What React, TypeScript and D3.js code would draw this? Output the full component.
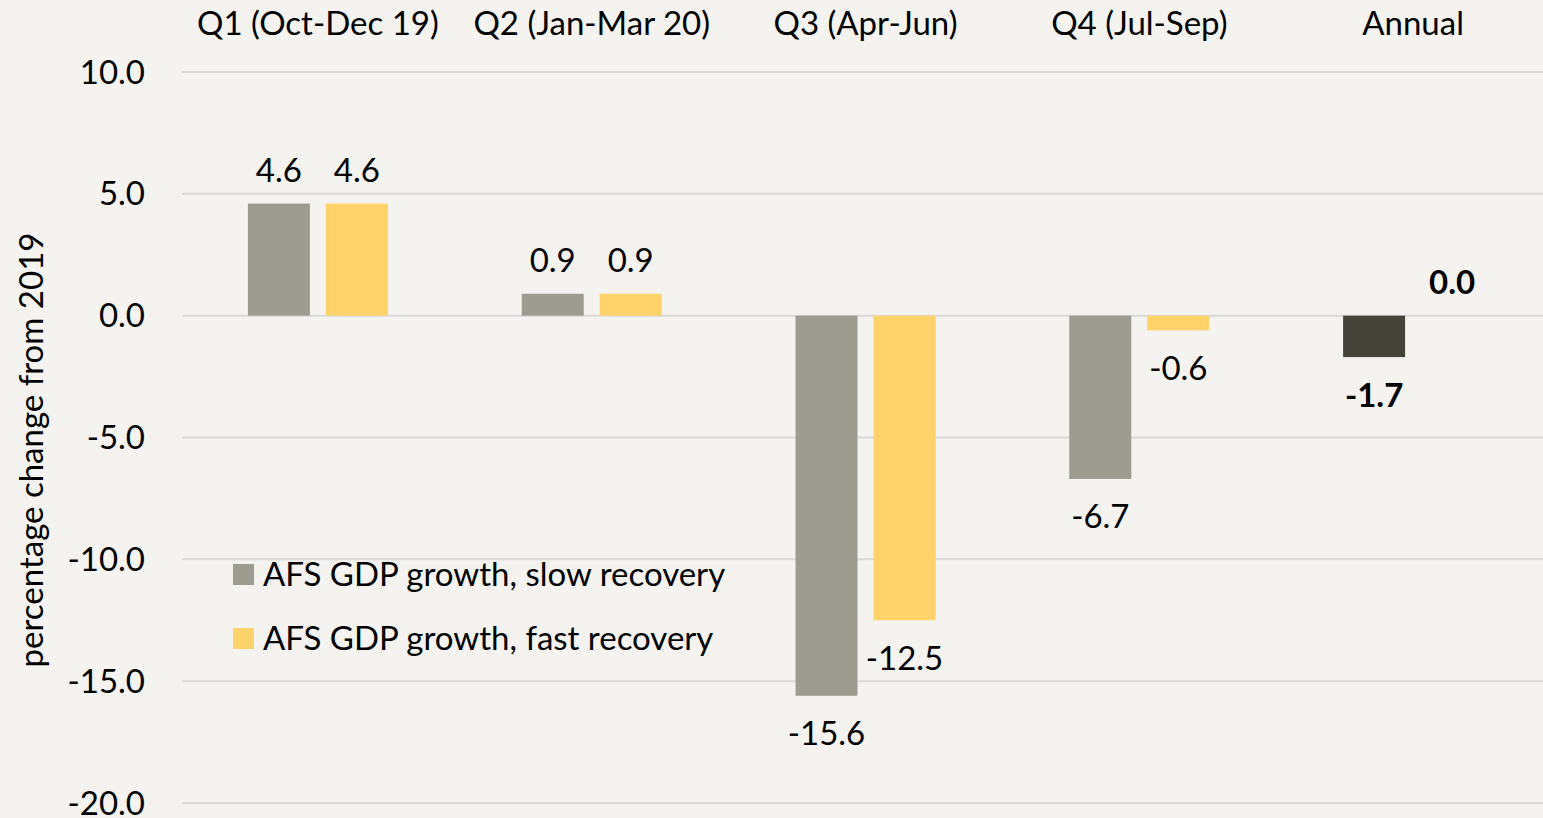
import React, { useEffect, useRef } from 'react';
import * as d3 from 'd3';

const categories = ['Q1 (Oct-Dec 19)', 'Q2 (Jan-Mar 20)', 'Q3 (Apr-Jun)', 'Q4 (Jul-Sep)', 'Annual'];
const slowRecovery = [4.6, 0.9, -15.6, -6.7, -1.7];
const fastRecovery = [4.6, 0.9, -12.5, -0.6, 0.0];
const yTicks = [10, 5, 0, -5, -10, -15, -20];
const seriesNames = ['AFS GDP growth, slow recovery', 'AFS GDP growth, fast recovery'];

const W = 1543;
const H = 818;
const BG = '#f4f3ef';
const SLOW = '#9d9c90';
const FAST = '#ffd26a';
const ANNUAL = '#44433a';
const FONT = 'Lato, "Open Sans", sans-serif';
const FS = 33;

// hyphen-minus like the original, not the unicode minus d3 uses
const fmt = (v: number) => d3.format('.1f')(v).replace('\u2212', '-');

const App = () => {
  const svgRef = useRef<SVGSVGElement>(null);

  useEffect(() => {
    const margin = { top: 72, right: -7, bottom: 15, left: 181 };
    const width = W - margin.left - margin.right;
    const height = H - margin.top - margin.bottom;

    const root = d3.select(svgRef.current);
    root.selectAll('*').remove();

    root.append('rect').attr('width', W).attr('height', H).attr('fill', BG);

    const svg = root.append('g').attr('transform', `translate(${margin.left},${margin.top})`);

    const x0 = d3.scaleBand().domain(categories).range([0, width]);
    const x1 = d3.scaleBand().domain(['slow', 'fast']).range([0, 140]).paddingInner(0.205);
    const groupOffset = (x0.bandwidth() - 140) / 2;

    const y = d3.scaleLinear().domain([-20, 10]).range([height, 0]);

    // gridlines
    svg.append('g')
      .selectAll('line')
      .data(yTicks)
      .join('line')
      .attr('x1', 1)
      .attr('x2', W - margin.left)
      .attr('y1', d => y(d))
      .attr('y2', d => y(d))
      .attr('stroke', '#d9d9d9')
      .attr('stroke-width', 2);

    // y tick labels
    svg.append('g')
      .selectAll('text')
      .data(yTicks)
      .join('text')
      .attr('x', -36)
      .attr('y', d => y(d))
      .attr('dy', '0.35em')
      .attr('text-anchor', 'end')
      .attr('font-family', FONT)
      .attr('font-size', FS)
      .attr('fill', '#000')
      .text(d => fmt(d));

    // category labels on top
    svg.append('g')
      .selectAll('text')
      .data(categories)
      .join('text')
      .attr('x', d => (x0(d) as number) + x0.bandwidth() / 2)
      .attr('y', 23 - margin.top)
      .attr('dy', '0.35em')
      .attr('text-anchor', 'middle')
      .attr('font-family', FONT)
      .attr('font-size', FS)
      .attr('fill', '#000')
      .text(d => d);

    const rows = categories.map((c, i) => ({
      cat: c,
      annual: c === 'Annual',
      bars: [
        { key: 'slow', value: slowRecovery[i] },
        { key: 'fast', value: fastRecovery[i] },
      ],
    }));

    const groups = svg.append('g')
      .selectAll('g')
      .data(rows)
      .join('g')
      .attr('transform', d => `translate(${(x0(d.cat) as number) + groupOffset},0)`);

    groups.selectAll('rect')
      .data(d => d.bars.map(b => ({ ...b, annual: d.annual })))
      .join('rect')
      .attr('x', d => x1(d.key) as number)
      .attr('width', x1.bandwidth())
      .attr('y', d => y(Math.max(0, d.value)))
      .attr('height', d => Math.abs(y(d.value) - y(0)))
      .attr('fill', d => (d.key === 'slow' ? (d.annual ? ANNUAL : SLOW) : FAST));

    groups.selectAll('text')
      .data(d => d.bars.map(b => ({ ...b, annual: d.annual })))
      .join('text')
      .attr('x', d => (x1(d.key) as number) + x1.bandwidth() / 2)
      .attr('y', d => (d.value >= 0 ? y(d.value) - 33 : y(d.value) + 38))
      .attr('dy', '0.35em')
      .attr('text-anchor', 'middle')
      .attr('font-family', FONT)
      .attr('font-size', FS)
      .attr('font-weight', d => (d.annual ? 700 : 400))
      .attr('fill', '#000')
      .text(d => fmt(d.value));

    // legend
    const legend = svg.append('g').attr('transform', `translate(${233 - margin.left},0)`);
    seriesNames.forEach((name, i) => {
      const cy = 574 - margin.top + i * 64;
      legend.append('rect')
        .attr('x', 0)
        .attr('y', cy - 10)
        .attr('width', 21)
        .attr('height', 21)
        .attr('fill', i === 0 ? SLOW : FAST);
      legend.append('text')
        .attr('x', 30)
        .attr('y', cy)
        .attr('dy', '0.35em')
        .attr('font-family', FONT)
        .attr('font-size', FS)
        .attr('fill', '#000')
        .text(name);
    });

    // y axis title
    root.append('text')
      .attr('transform', `translate(31,${450}) rotate(-90)`)
      .attr('dy', '0.35em')
      .attr('text-anchor', 'middle')
      .attr('font-family', FONT)
      .attr('font-size', FS)
      .attr('fill', '#000')
      .text('percentage change from 2019');
  }, []);

  return (
    <div style={{ position: 'fixed', left: 0, top: 0, width: W, height: H }}>
      <svg ref={svgRef} width={W} height={H} style={{ display: 'block' }}></svg>
    </div>
  );
};

export default App;
